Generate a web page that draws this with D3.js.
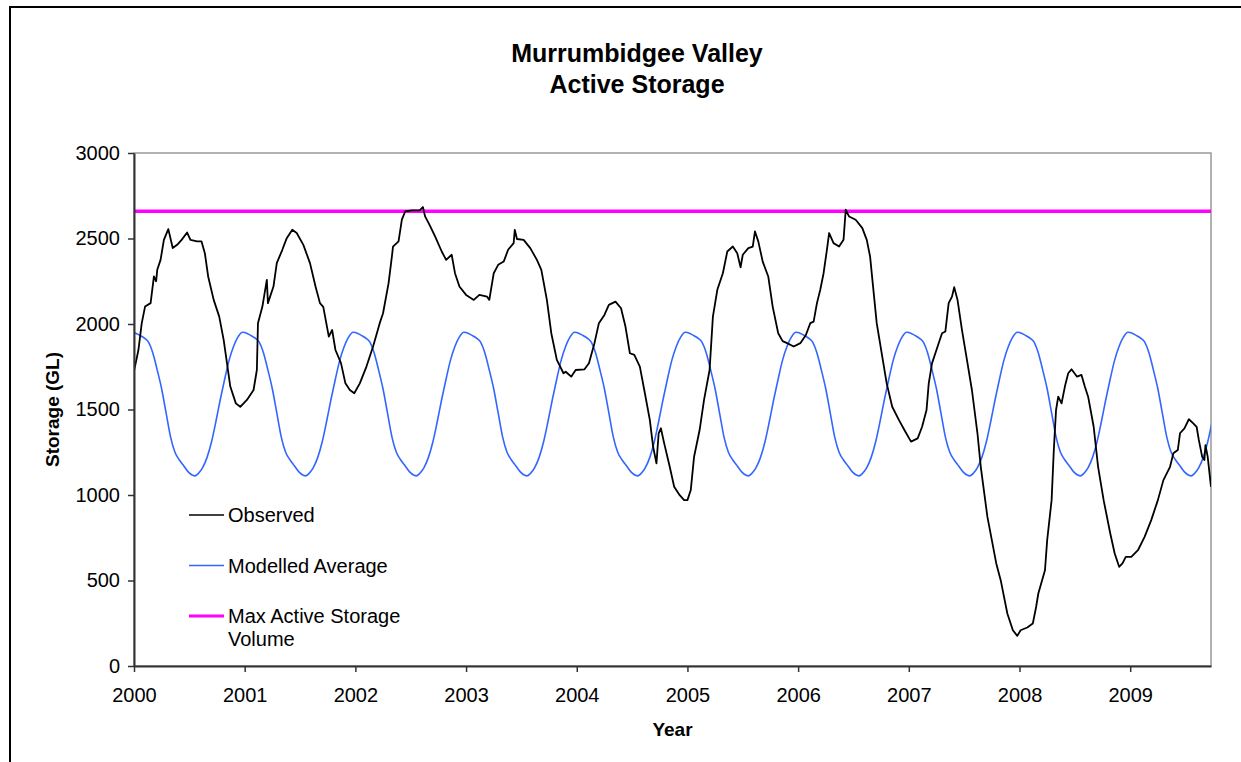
<!DOCTYPE html>
<html>
<head>
<meta charset="utf-8">
<script src="https://cdn.jsdelivr.net/npm/d3@7"></script>
<style>
    body { margin: 0; background: #fff; }
    text { font-family: Arial, "Liberation Sans", sans-serif; }
</style>
</head>
<body>
<div id="mainDiv"></div>
<script>
// Observed active storage, [decimal year, GL]
var observed = [
    [2000.00,1725],[2000.04,1848],[2000.07,2005],[2000.10,2102],[2000.15,2122],[2000.18,2278],[2000.20,2250],[2000.21,2317],
    [2000.24,2375],[2000.27,2492],[2000.31,2555],[2000.35,2444],[2000.39,2463],[2000.43,2492],[2000.48,2535],[2000.51,2492],
    [2000.57,2483],[2000.61,2483],[2000.64,2414],[2000.67,2278],[2000.72,2141],[2000.77,2043],[2000.81,1907],[2000.84,1771],
    [2000.87,1634],[2000.92,1536],[2000.96,1516],[2001.02,1556],[2001.08,1614],[2001.11,1731],[2001.12,2005],[2001.16,2102],
    [2001.20,2258],[2001.21,2122],[2001.26,2219],[2001.29,2356],[2001.34,2434],[2001.38,2502],[2001.43,2551],[2001.47,2532],
    [2001.53,2463],[2001.59,2356],[2001.64,2219],[2001.68,2122],[2001.71,2100],[2001.76,1926],[2001.79,1965],[2001.82,1848],
    [2001.87,1771],[2001.91,1653],[2001.95,1614],[2001.99,1595],[2002.04,1653],[2002.10,1751],[2002.16,1868],[2002.22,2005],
    [2002.25,2063],[2002.30,2239],[2002.33,2395],[2002.34,2453],[2002.39,2483],[2002.42,2610],[2002.45,2658],[2002.51,2664],
    [2002.58,2664],[2002.61,2684],[2002.63,2629],[2002.67,2580],[2002.72,2512],[2002.78,2424],[2002.82,2375],[2002.87,2405],
    [2002.90,2297],[2002.94,2219],[2003.00,2170],[2003.07,2141],[2003.12,2170],[2003.19,2160],[2003.21,2141],[2003.25,2297],
    [2003.29,2346],[2003.34,2365],[2003.38,2434],[2003.43,2473],[2003.44,2551],[2003.46,2497],[2003.52,2492],[2003.58,2444],
    [2003.64,2375],[2003.68,2317],[2003.73,2141],[2003.77,1946],[2003.82,1790],[2003.88,1712],[2003.90,1721],[2003.95,1692],
    [2003.99,1731],[2004.07,1735],[2004.11,1771],[2004.16,1888],[2004.20,2005],[2004.25,2053],[2004.29,2112],[2004.35,2131],
    [2004.40,2092],[2004.44,1985],[2004.48,1829],[2004.52,1819],[2004.57,1751],[2004.61,1614],[2004.66,1439],[2004.69,1282],
    [2004.72,1185],[2004.74,1361],[2004.76,1390],[2004.79,1302],[2004.84,1165],[2004.88,1048],[2004.93,999],[2004.97,970],
    [2005.00,970],[2005.03,1029],[2005.06,1224],[2005.11,1380],[2005.15,1556],[2005.20,1731],[2005.23,2043],[2005.27,2200],
    [2005.32,2297],[2005.36,2424],[2005.41,2453],[2005.45,2414],[2005.48,2332],[2005.50,2405],[2005.55,2444],[2005.59,2453],
    [2005.61,2541],[2005.64,2483],[2005.68,2365],[2005.73,2278],[2005.77,2102],[2005.82,1946],[2005.86,1900],[2005.90,1888],
    [2005.96,1868],[2006.02,1888],[2006.07,1936],[2006.11,2005],[2006.14,2014],[2006.17,2122],[2006.20,2200],[2006.23,2297],
    [2006.26,2434],[2006.28,2532],[2006.32,2473],[2006.37,2453],[2006.41,2492],[2006.43,2668],[2006.46,2629],[2006.52,2610],
    [2006.58,2561],[2006.62,2492],[2006.65,2395],[2006.68,2200],[2006.71,2005],[2006.76,1809],[2006.80,1653],[2006.85,1516],
    [2006.91,1439],[2006.96,1380],[2007.02,1312],[2007.08,1331],[2007.12,1399],[2007.16,1497],[2007.18,1653],[2007.21,1771],
    [2007.26,1868],[2007.30,1946],[2007.33,1956],[2007.36,2122],[2007.39,2160],[2007.41,2215],[2007.44,2141],[2007.48,1966],
    [2007.53,1771],[2007.57,1614],[2007.62,1361],[2007.65,1165],[2007.71,872],[2007.79,600],[2007.83,502],[2007.89,307],
    [2007.94,209],[2007.98,176],[2008.01,209],[2008.07,225],[2008.12,248],[2008.15,345],[2008.17,424],[2008.23,560],
    [2008.25,736],[2008.29,970],[2008.31,1263],[2008.33,1497],[2008.35,1575],[2008.38,1536],[2008.41,1634],[2008.44,1712],
    [2008.47,1735],[2008.52,1692],[2008.56,1702],[2008.59,1634],[2008.62,1575],[2008.67,1399],[2008.71,1165],[2008.76,970],
    [2008.82,775],[2008.86,658],[2008.90,580],[2008.93,600],[2008.96,638],[2009.01,638],[2009.07,677],[2009.13,755],
    [2009.19,853],[2009.25,970],[2009.30,1087],[2009.36,1165],[2009.39,1244],[2009.43,1263],[2009.45,1361],[2009.49,1390],
    [2009.53,1443],[2009.57,1419],[2009.60,1399],[2009.62,1322],[2009.65,1224],[2009.67,1204],[2009.68,1292],[2009.70,1224],
    [2009.73,1048]
];

// Modelled average: the same yearly cycle every year (fraction of year, GL)
var modelFrac = [0.00, 0.05, 0.10, 0.13, 0.17, 0.21, 0.25, 0.29, 0.33, 0.37, 0.41, 0.45, 0.49, 0.53, 0.55,
                 0.58, 0.62, 0.66, 0.70, 0.74, 0.78, 0.82, 0.86, 0.90, 0.94, 0.98];
var modelValue = [1950, 1935, 1915, 1895, 1830, 1730, 1620, 1480, 1340, 1250, 1205, 1170, 1135, 1115, 1112,
                  1125, 1160, 1220, 1310, 1430, 1560, 1680, 1790, 1870, 1925, 1952];
var modelYears = [2000, 2001, 2002, 2003, 2004, 2005, 2006, 2007, 2008, 2009];

var maxActive = 2660;

var xTicks = [2000, 2001, 2002, 2003, 2004, 2005, 2006, 2007, 2008, 2009];
var yTicks = [0, 500, 1000, 1500, 2000, 2500, 3000];
var xEnd = 2009.73;

var legendItems = [
    { label: [ 'Observed' ], color: '#000000', width: 1.5 },
    { label: [ 'Modelled Average' ], color: '#3366FF', width: 1.5 },
    { label: [ 'Max Active Storage', 'Volume' ], color: '#FF00FF', width: 3 }
];

var Storage = Storage || {};

Storage.main = function () {

    var _width = 1241, _height = 762,
        _left = 134, _right = 1211, _top = 153, _bottom = 666,
        _svg, _plot, _x, _y, _line, _modelled = [];

    _svg = d3.select( '#mainDiv' )
        .append( 'svg' )
        .attr( 'width', _width )
        .attr( 'height', _height );

    _svg.append( 'rect' )
        .attr( 'width', _width )
        .attr( 'height', _height )
        .attr( 'fill', '#ffffff' );

    // outer chart frame (right and bottom edges run off the picture)
    _svg.append( 'rect' )
        .attr( 'x', 10 )
        .attr( 'y', 7 )
        .attr( 'width', 1260 )
        .attr( 'height', 800 )
        .attr( 'fill', 'none' )
        .attr( 'stroke', '#000' )
        .attr( 'stroke-width', 2 );

    _svg.append( 'text' )
        .attr( 'x', 637 )
        .attr( 'y', 62 )
        .attr( 'text-anchor', 'middle' )
        .style( 'font-size', '25px' )
        .style( 'font-weight', 'bold' )
        .text( 'Murrumbidgee Valley' );
    _svg.append( 'text' )
        .attr( 'x', 637 )
        .attr( 'y', 93 )
        .attr( 'text-anchor', 'middle' )
        .style( 'font-size', '25px' )
        .style( 'font-weight', 'bold' )
        .text( 'Active Storage' );

    _x = d3.scaleLinear().domain( [ 2000, xEnd ] ).range( [ _left, _right ] );
    _y = d3.scaleLinear().domain( [ 0, 3000 ] ).range( [ _bottom, _top ] );

    _svg.append( 'clipPath' )
        .attr( 'id', 'plotClip' )
        .append( 'rect' )
        .attr( 'x', _left )
        .attr( 'y', _top - 5 )
        .attr( 'width', _right - _left )
        .attr( 'height', _bottom - _top + 5 );

    // plot area border (top and right are grey)
    _svg.append( 'rect' )
        .attr( 'x', _left )
        .attr( 'y', _top )
        .attr( 'width', _right - _left )
        .attr( 'height', _bottom - _top )
        .attr( 'fill', 'none' )
        .attr( 'stroke', '#999' )
        .attr( 'stroke-width', 1.5 );

    _plot = _svg.append( 'g' ).attr( 'clip-path', 'url(#plotClip)' );

    _line = d3.line()
        .x( function ( d ) { return _x( d[ 0 ] ); } )
        .y( function ( d ) { return _y( d[ 1 ] ); } );

    modelYears.forEach( function ( yr ) {
        modelFrac.forEach( function ( f, i ) {
            _modelled.push( [ yr + f, modelValue[ i ] ] );
        } );
    } );
    _modelled.push( [ 2010, modelValue[ 0 ] ] );

    _plot.append( 'path' )
        .datum( [ [ 2000, maxActive ], [ xEnd, maxActive ] ] )
        .attr( 'd', _line )
        .attr( 'fill', 'none' )
        .attr( 'stroke', '#FF00FF' )
        .attr( 'stroke-width', 3.5 );

    _plot.append( 'path' )
        .datum( _modelled )
        .attr( 'd', _line.curve( d3.curveMonotoneX ) )
        .attr( 'fill', 'none' )
        .attr( 'stroke', '#3366FF' )
        .attr( 'stroke-width', 1.6 );

    _plot.append( 'path' )
        .datum( observed )
        .attr( 'd', _line.curve( d3.curveLinear ) )
        .attr( 'fill', 'none' )
        .attr( 'stroke', '#000' )
        .attr( 'stroke-width', 1.8 )
        .attr( 'stroke-linejoin', 'round' );

    // axes
    var yAxis = _svg.append( 'g' )
        .attr( 'transform', 'translate(' + _left + ',0)' )
        .call( d3.axisLeft( _y ).tickValues( yTicks ).tickFormat( d3.format( 'd' ) ).tickSize( 6 ).tickPadding( 8 ).tickSizeOuter( 0 ) );
    var xAxis = _svg.append( 'g' )
        .attr( 'transform', 'translate(0,' + _bottom + ')' )
        .call( d3.axisBottom( _x ).tickValues( xTicks ).tickFormat( d3.format( 'd' ) ).tickSize( 6 ).tickPadding( 16 ).tickSizeOuter( 0 ) );
    [ yAxis, xAxis ].forEach( function ( a ) {
        a.select( '.domain' ).attr( 'stroke', '#333' ).attr( 'stroke-width', 2 );
        a.selectAll( '.tick line' ).attr( 'stroke', '#333' ).attr( 'stroke-width', 1.5 );
        a.selectAll( 'text' )
            .attr( 'fill', '#000' )
            .style( 'font-size', '20px' )
            .style( 'font-family', 'Arial, "Liberation Sans", sans-serif' );
    } );

    _svg.append( 'text' )
        .attr( 'transform', 'translate(59,' + ( ( _top + _bottom ) / 2 ) + ') rotate(-90)' )
        .attr( 'text-anchor', 'middle' )
        .style( 'font-size', '19px' )
        .style( 'font-weight', 'bold' )
        .text( 'Storage (GL)' );

    _svg.append( 'text' )
        .attr( 'x', ( _left + _right ) / 2 )
        .attr( 'y', 736 )
        .attr( 'text-anchor', 'middle' )
        .style( 'font-size', '19px' )
        .style( 'font-weight', 'bold' )
        .text( 'Year' );

    // legend
    var legend = _svg.append( 'g' ).attr( 'transform', 'translate(189,515)' );
    legendItems.forEach( function ( item, i ) {
        var g = legend.append( 'g' ).attr( 'transform', 'translate(0,' + ( i * 50.5 ) + ')' );
        g.append( 'line' )
            .attr( 'x1', 0 ).attr( 'x2', 35 )
            .attr( 'y1', 0 ).attr( 'y2', 0 )
            .attr( 'stroke', item.color )
            .attr( 'stroke-width', item.width );
        item.label.forEach( function ( t, j ) {
            g.append( 'text' )
                .attr( 'x', 39 )
                .attr( 'y', 7 + j * 23 )
                .style( 'font-size', '20px' )
                .text( t );
        } );
    } );
}();
</script>
</body>
</html>
